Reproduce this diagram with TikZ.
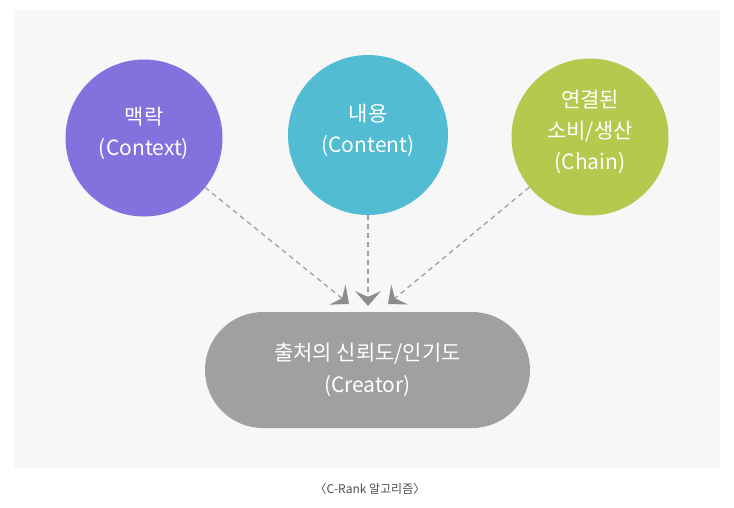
\documentclass[tikz,border=0pt]{standalone}
\usepackage{fontspec}
\setmainfont{Noto Sans CJK KR}
\usetikzlibrary{arrows.meta, positioning}
\definecolor{ctxpurple}{RGB}{130,114,222}
\definecolor{cntteal}{RGB}{82,188,210}
\definecolor{chngreen}{RGB}{181,201,78}
\definecolor{crtgray}{RGB}{160,160,160}
\definecolor{panelgray}{RGB}{247,247,247}
\definecolor{arrgray}{RGB}{160,160,160}
\definecolor{tipgray}{RGB}{140,140,140}

\begin{document}
\begin{tikzpicture}[
			x=1pt, y=-1pt,
			src/.style={circle, minimum size=157pt, inner sep=0pt},
			lbl/.style={align=center, text=white, yshift=5pt, font=\fontsize{21}{31}\selectfont},
			creator/.style={rectangle, rounded corners=58pt, fill=crtgray, minimum width=325pt, minimum height=116pt, align=center, text=white, font=\fontsize{21}{32}\selectfont},
			arr/.style={-{Stealth[length=15pt, width=26pt, inset=6pt, color=tipgray, fill=tipgray, line width=0pt]}, dashed, dash pattern=on 5pt off 4pt, line width=1.3pt, draw=arrgray}
			]
			\useasboundingbox (0,0) rectangle (734,507);
			\fill[panelgray] (14,10) rectangle (720,468);
			\node[src, fill=ctxpurple, label={[lbl]center:{맥락\\(Context)}}] (context) at (144,138) {};
			\node[src, fill=cntteal, minimum size=160pt, label={[lbl]center:{내용\\(Content)}}] (content) at (368,135) {};
			\node[src, fill=chngreen, label={[lbl]center:{연결된\\소비/생산\\(Chain)}}] (chain) at (590,137) {};
			\node[creator] (creator) at (367.5,370) {출처의 신뢰도/인기도\\(Creator)};
			\node[font=\fontsize{12}{14}\selectfont, text=black!70] (caption) at (370,489) {〈C-Rank 알고리즘〉};
			% arrow tips sit just above the creator box
			\coordinate (tipctx) at (349,304);
			\coordinate (tipcnt) at (368,306);
			\coordinate (tipchn) at (388,304);
			\draw[arr] (context) -- (tipctx);
			\draw[arr] (content) -- (tipcnt);
			\draw[arr] (chain) -- (tipchn);
		\end{tikzpicture}
\end{document}
